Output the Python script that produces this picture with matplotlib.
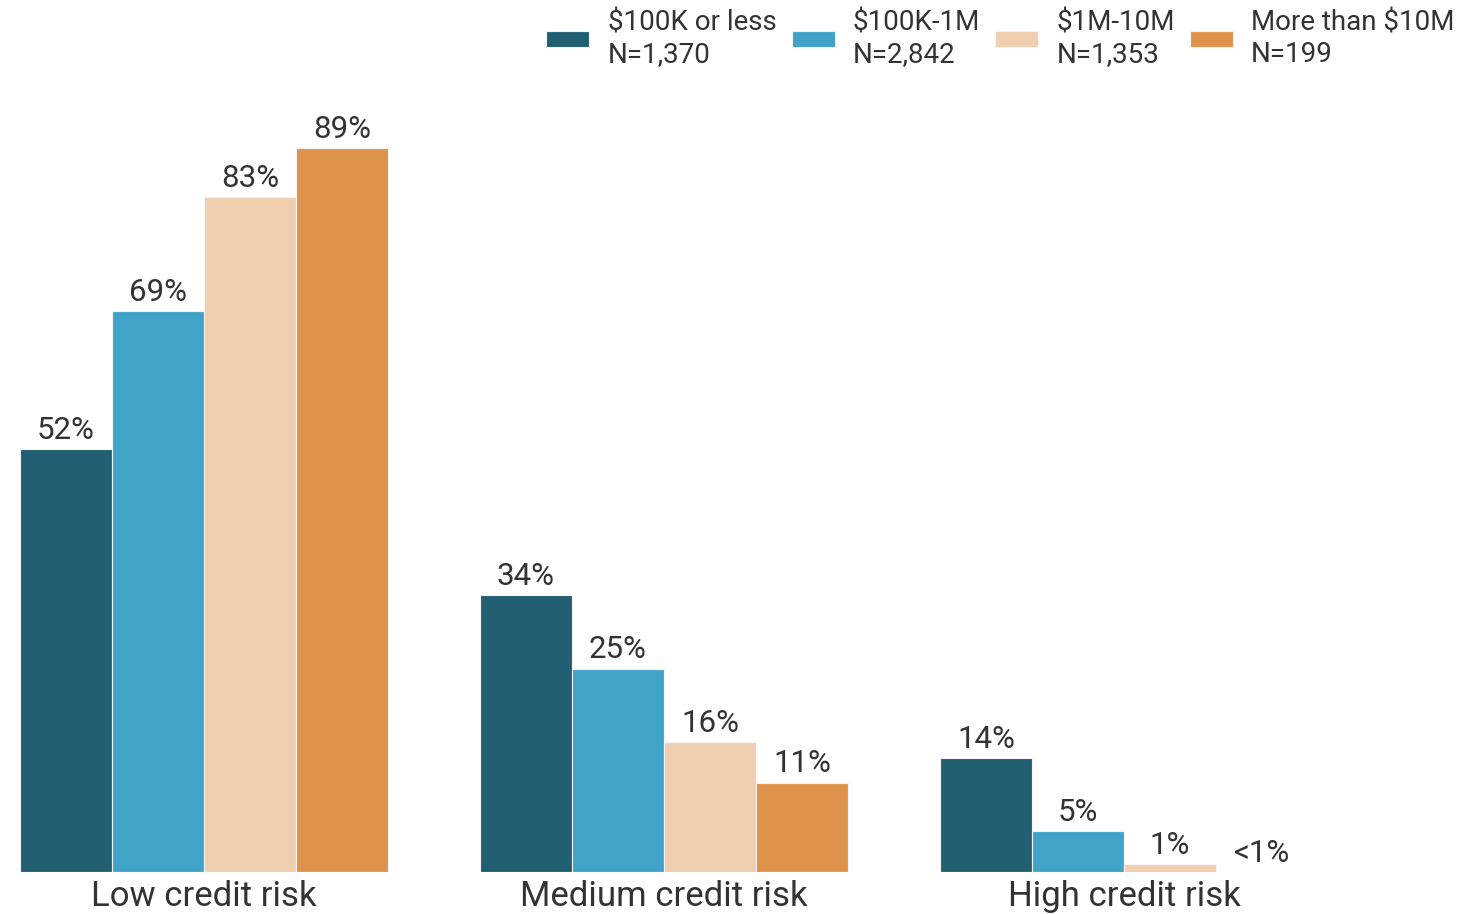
import matplotlib
matplotlib.use("Agg")
import matplotlib.pyplot as plt
import numpy as np

plt.rcParams['font.family'] = ['Roboto', 'DejaVu Sans']

categories = ["Low credit risk", "Medium credit risk", "High credit risk"]
series_names = ["$100K or less\nN=1,370", "$100K-1M\nN=2,842", "$1M-10M\nN=1,353", "More than $10M\nN=199"]
values = [
    [52, 34, 14],
    [69, 25, 5],
    [83, 16, 1],
    [89, 11, 0],
]
value_labels = [
    ["52%", "34%", "14%"],
    ["69%", "25%", "5%"],
    ["83%", "16%", "1%"],
    ["89%", "11%", "<1%"],
]
colors = ["#225F73", "#42A3C8", "#F0CEAF", "#DE924B"]
text_color = "#333333"

W, H = 1460, 914
fig = plt.figure(figsize=(W / 100, H / 100), dpi=100)
base_px = 872
top_px = 100
ax = fig.add_axes([0, (H - base_px) / H, 1, (base_px - top_px) / H])

px_per_pct = (872 - 148) / 89.0
ax.set_ylim(0, (base_px - top_px) / px_per_pct)
ax.set_xlim((0 - 204) / 460, (W - 204) / 460)

x = np.arange(len(categories))
width = 0.2
offsets = [-0.3, -0.1, 0.1, 0.3]
for i in range(4):
    bars = ax.bar(x + offsets[i], values[i], width, color=colors[i],
                  edgecolor="#f4f4f4", linewidth=0.8, label=series_names[i])
    for b, lab in zip(bars, value_labels[i]):
        ax.annotate(lab, (b.get_x() + b.get_width() / 2, b.get_height()),
                    xytext=(0, 3), textcoords="offset points",
                    ha="center", va="bottom", fontsize=22.5, color=text_color)

ax.set_xticks(x)
ax.set_xticklabels(categories, fontsize=25, color=text_color)
ax.tick_params(axis="x", length=0, pad=5.5)
ax.set_yticks([])
for s in ax.spines.values():
    s.set_visible(False)

fig.legend(loc="upper right", bbox_to_anchor=(1.0, 1.0 - 4 / H), ncol=4, frameon=False,
           fontsize=20, handlelength=1.55, handleheight=0.5, handletextpad=0.65,
           columnspacing=0.55, labelcolor=text_color, borderaxespad=0.0,
           borderpad=0.2)

fig.savefig("out.png", dpi=100)
